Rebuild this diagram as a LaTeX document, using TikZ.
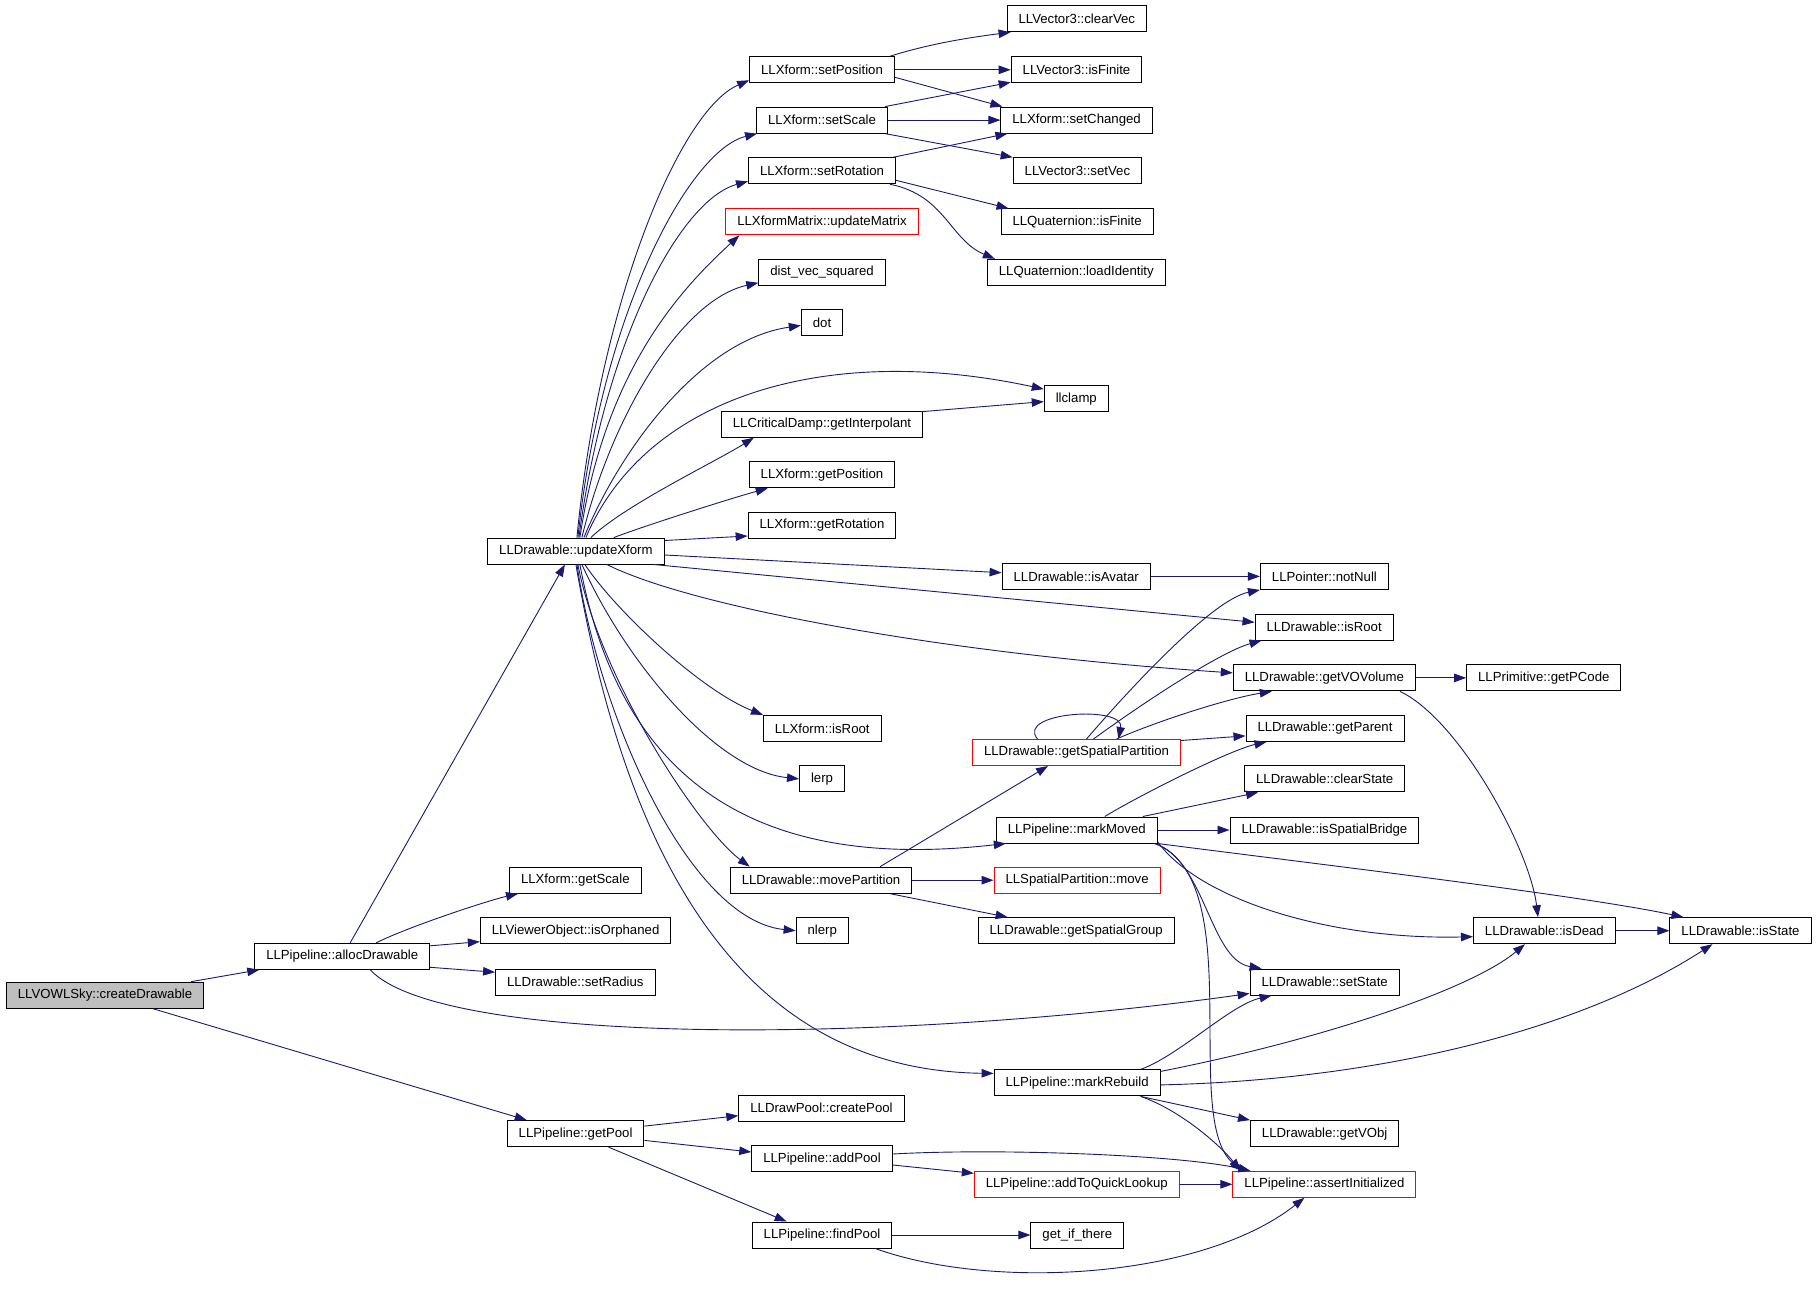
\documentclass[tikz,border=0pt]{standalone}
\usepackage{fontspec}
\setmainfont{Liberation Sans}
\usetikzlibrary{arrows.meta,calc}
\definecolor{edgeblue}{HTML}{191970}
\definecolor{boxgray}{HTML}{BFBFBF}
\begin{document}
\begin{tikzpicture}[x=1pt,y=-1pt,
  fn/.style={draw=black,line width=1pt,minimum height=26pt,inner xsep=11.5pt,inner ysep=0pt,font=\fontsize{13.2}{15}\selectfont},
  fnred/.style={fn,draw=red},
  fncur/.style={fn,fill=boxgray},
  call/.style={draw=edgeblue,line width=0.9pt,-{Triangle[length=12pt,width=8.5pt]}}]
\useasboundingbox (0,0) rectangle (1816,1292);
\node[fncur] (cre) at (105,995.2) {LLVOWLSky::createDrawable};
\node[fn] (alloc) at (342.2,956.3) {LLPipeline::allocDrawable};
\node[fn] (getpool) at (575.6,1133.6) {LLPipeline::getPool};
\node[fn] (upd) at (575.9,551) {LLDrawable::updateXform};
\node[fn] (getscale) at (575.3,880.2) {LLXform::getScale};
\node[fn] (isorph) at (575.6,930.7) {LLViewerObject::isOrphaned};
\node[fn] (setrad) at (575.3,982) {LLDrawable::setRadius};
\node[fn] (setpos) at (822,69.8) {LLXform::setPosition};
\node[fn] (setscale) at (822,120.1) {LLXform::setScale};
\node[fn] (setrot) at (822,170.8) {LLXform::setRotation};
\node[fnred] (updmat) at (822,221.9) {LLXformMatrix::updateMatrix};
\node[fn] (distvec) at (822,272.3) {dist\_vec\_squared};
\node[fn] (dot) at (822,322.8) {dot};
\node[fn] (interp) at (822,424.2) {LLCriticalDamp::getInterpolant};
\node[fn] (getposition) at (822,474.8) {LLXform::getPosition};
\node[fn] (getrotation) at (822,525.5) {LLXform::getRotation};
\node[fn] (xisroot) at (822.3,728.4) {LLXform::isRoot};
\node[fn] (lerp) at (822,778.9) {lerp};
\node[fn] (movepart) at (821,880.2) {LLDrawable::movePartition};
\node[fn] (nlerp) at (822.3,930.7) {nlerp};
\node[fn] (createpool) at (821.5,1108) {LLDrawPool::createPool};
\node[fn] (addpool) at (822,1158.7) {LLPipeline::addPool};
\node[fn] (findpool) at (822,1235) {LLPipeline::findPool};
\node[fn] (clearvec) at (1076.8,18.8) {LLVector3::clearVec};
\node[fn] (visfinite) at (1076.5,69.8) {LLVector3::isFinite};
\node[fn] (setchanged) at (1076.6,120.1) {LLXform::setChanged};
\node[fn] (setvec) at (1077.4,170.8) {LLVector3::setVec};
\node[fn] (qisfinite) at (1077.1,221.9) {LLQuaternion::isFinite};
\node[fn] (loadid) at (1076.3,272.3) {LLQuaternion::loadIdentity};
\node[fn] (llclamp) at (1076.3,398.6) {llclamp};
\node[fn] (isavatar) at (1076.2,576.4) {LLDrawable::isAvatar};
\node[fnred] (spatpart) at (1076.5,752.5) {LLDrawable::getSpatialPartition};
\node[fn] (markmoved) at (1076.8,830) {LLPipeline::markMoved};
\node[fnred] (spmove) at (1077.1,880.2) {LLSpatialPartition::move};
\node[fn] (getspgroup) at (1076.2,930.7) {LLDrawable::getSpatialGroup};
\node[fn] (markrebuild) at (1077.1,1082.9) {LLPipeline::markRebuild};
\node[fnred] (addquick) at (1076.8,1184.3) {LLPipeline::addToQuickLookup};
\node[fn] (getifthere) at (1077.3,1235) {get\_if\_there};
\node[fn] (notnull) at (1324.4,576.4) {LLPointer::notNull};
\node[fn] (disroot) at (1324.1,627) {LLDrawable::isRoot};
\node[fn] (getvov) at (1324.4,677.9) {LLDrawable::getVOVolume};
\node[fn] (getparent) at (1325,728.4) {LLDrawable::getParent};
\node[fn] (clearstate) at (1324.7,778.9) {LLDrawable::clearState};
\node[fn] (isspbr) at (1324.4,830) {LLDrawable::isSpatialBridge};
\node[fn] (setstate) at (1324.7,982) {LLDrawable::setState};
\node[fn] (getvobj) at (1324.7,1133.6) {LLDrawable::getVObj};
\node[fnred] (assertinit) at (1324.4,1184.3) {LLPipeline::assertInitialized};
\node[fn] (getpcode) at (1543.8,677.9) {LLPrimitive::getPCode};
\node[fn] (isdead) at (1544.4,930.7) {LLDrawable::isDead};
\node[fn] (isstate) at (1740.5,930.7) {LLDrawable::isState};
\draw[call] ($(cre.north)+(86,0)$) -- ($(alloc.south west)+(5,0)$);
\draw[call] ($(cre.south)+(48,0)$) -- ($(getpool.north west)+(20,0)$);
\draw[call] ($(alloc.north)+(8,0)$) -- ($(upd.south)+(-11,0)$);
\draw[call] ($(alloc.north)+(34,0)$) .. controls (410,926) and (490,900) .. ($(getscale.south west)+(9,0)$);
\draw[call] ($(alloc.north east)+(0,3)$) -- ($(isorph.south west)+(0,-2.5)$);
\draw[call] ($(alloc.south east)+(0,-2.5)$) -- ($(setrad.north west)+(0,3.7)$);
\draw[call] ($(alloc.south)+(28,0)$) .. controls (440,1045) and (880,1045) .. ($(setstate.south west)+(0,-2)$);
\draw[call] ($(upd.north)+(1,0)$) .. controls (600,300) and (680,110) .. ($(setpos.south west)+(0,-3)$);
\draw[call] ($(upd.north)+(2,0)$) .. controls (602,310) and (690,150) .. ($(setscale.south west)+(1,0)$);
\draw[call] ($(upd.north)+(3,0)$) .. controls (605,340) and (680,200) .. ($(setrot.south west)+(0,-3)$);
\draw[call] ($(upd.north)+(4,0)$) .. controls (605,370) and (680,290) .. ($(updmat.south west)+(14,0)$);
\draw[call] ($(upd.north)+(6,0)$) .. controls (610,420) and (680,300) .. ($(distvec.south west)+(0,-3)$);
\draw[call] ($(upd.north)+(8,0)$) .. controls (620,450) and (700,340) .. ($(dot.west)+(0,2.7)$);
\draw[call] ($(upd.north)+(10,0)$) .. controls (644,400) and (820,341) .. ($(llclamp.north west)+(0,4)$);
\draw[call] ($(upd.north)+(15,0)$) .. controls (625,505) and (715,462) .. ($(interp.south west)+(33,0)$);
\draw[call] ($(upd.north)+(38,0)$) .. controls (644,526) and (732,498) .. ($(getposition.south west)+(19,0)$);
\draw[call] ($(upd.north east)+(0,3)$) -- ($(getrotation.south west)+(0,-3)$);
\draw[call] ($(upd.east)+(0,4)$) -- ($(isavatar.west)+(0,-3.7)$);
\draw[call] ($(upd.south east)+(-11,0)$) -- ($(disroot.west)+(0,-4.7)$);
\draw[call] ($(upd.south)+(31,0)$) .. controls (687,605) and (933,653) .. ($(getvov.west)+(0,-5)$);
\draw[call] ($(upd.south)+(9,0)$) .. controls (615,610) and (700,690) .. (xisroot.north west);
\draw[call] ($(upd.south)+(6,0)$) .. controls (625,660) and (715,770) .. (lerp.west);
\draw[call] ($(upd.south)+(4,0)$) .. controls (625,810) and (790,868) .. ($(markmoved.south west)+(10,0)$);
\draw[call] ($(upd.south)+(2,0)$) .. controls (600,680) and (700,830) .. ($(movepart.north west)+(20,0)$);
\draw[call] ($(upd.south)+(1,0)$) .. controls (600,720) and (690,920) .. (nlerp.west);
\draw[call] (upd.south) .. controls (620,820) and (720,1070) .. ($(markrebuild.north west)+(0,4)$);
\draw[call] ($(setpos.north east)+(-5,0)$) .. controls (925,45) and (965,38) .. ($(clearvec.south west)+(4,0)$);
\draw[call] (setpos.east) -- (visfinite.west);
\draw[call] ($(setpos.south east)+(0,-6)$) -- ($(setchanged.north west)+(2,0)$);
\draw[call] ($(setscale.north east)+(-3,0)$) -- ($(visfinite.south west)+(0,-1)$);
\draw[call] (setscale.east) -- (setchanged.west);
\draw[call] ($(setscale.south east)+(-3,0)$) -- (setvec.north west);
\draw[call] ($(setrot.north east)+(-3,0)$) -- ($(setchanged.south west)+(7,0)$);
\draw[call] ($(setrot.south east)+(0,-4)$) -- ($(qisfinite.north west)+(8,0)$);
\draw[call] ($(setrot.south east)+(-6,0)$) .. controls (945,195) and (950,240) .. ($(loadid.north west)+(8,0)$);
\draw[call] ($(interp.north east)+(-2,1)$) -- ($(llclamp.west)+(0,3)$);
\draw[call] (isavatar.east) -- (notnull.west);
\draw[call] (getvov.east) -- (getpcode.west);
\draw[call] ($(getvov.south east)+(-16,0)$) .. controls (1460,720) and (1530,850) .. ($(isdead.north west)+(65,0)$);
\draw[call] (isdead.east) -- (isstate.west);
\draw[call] ($(spatpart.north)+(-39,0)$) .. controls (1015,712) and (1125,705) .. ($(spatpart.north)+(42,0)$);
\draw[call] ($(spatpart.north)+(10,0)$) .. controls (1120,700) and (1210,600) .. (notnull.south west);
\draw[call] ($(spatpart.north)+(17,0)$) .. controls (1140,705) and (1220,652) .. ($(disroot.south west)+(7,0)$);
\draw[call] ($(spatpart.north)+(40,0)$) .. controls (1160,720) and (1230,698) .. ($(getvov.south west)+(39,0)$);
\draw[call] ($(spatpart.north east)+(0,1.5)$) -- ($(getparent.west)+(0,7.5)$);
\draw[call] ($(movepart.north)+(59,0)$) -- ($(spatpart.south west)+(76,0)$);
\draw[call] (movepart.east) -- (spmove.west);
\draw[call] ($(movepart.south east)+(-22,0)$) -- ($(getspgroup.north west)+(30,0)$);
\draw[call] ($(markmoved.north)+(28,0)$) .. controls (1140,795) and (1230,750) .. ($(getparent.south west)+(21,0)$);
\draw[call] ($(markmoved.north)+(66,0)$) -- ($(clearstate.south west)+(14,0)$);
\draw[call] (markmoved.east) -- (isspbr.west);
\draw[call] (markmoved.south east) .. controls (1300,862) and (1580,895) .. ($(isstate.north west)+(14,0)$);
\draw[call] ($(markmoved.south east)+(0,-1.5)$) .. controls (1200,900) and (1330,940) .. ($(isdead.west)+(0,6)$);
\draw[call] ($(markmoved.south east)+(-3,0)$) .. controls (1205,860) and (1210,960) .. ($(setstate.north west)+(12,0)$);
\draw[call] ($(markmoved.south east)+(-3,0)$) .. controls (1250,880) and (1180,1120) .. ($(assertinit.north west)+(10,0)$);
\draw[call] ($(markrebuild.north east)+(-20,0)$) .. controls (1180,1055) and (1230,1005) .. ($(setstate.south west)+(22,0)$);
\draw[call] ($(markrebuild.north east)+(0,2)$) .. controls (1320,1040) and (1470,990) .. ($(isdead.south west)+(52,0)$);
\draw[call] ($(markrebuild.east)+(0,2)$) .. controls (1380,1080) and (1580,1030) .. ($(isstate.south west)+(43,0)$);
\draw[call] ($(markrebuild.south east)+(-20,0)$) -- (getvobj.north west);
\draw[call] ($(markrebuild.south east)+(-20,0)$) .. controls (1180,1110) and (1220,1145) .. ($(assertinit.north west)+(8,0)$);
\draw[call] ($(getpool.north east)+(0,6)$) -- ($(createpool.west)+(0,7.7)$);
\draw[call] ($(getpool.east)+(0,6.8)$) -- ($(addpool.west)+(0,-6.7)$);
\draw[call] ($(getpool.south east)+(-36,0)$) -- ($(findpool.north west)+(35,0)$);
\draw[call] ($(addpool.east)+(0,6.3)$) -- ($(addquick.west)+(0,-11)$);
\draw[call] ($(addpool.east)+(0,-4.7)$) .. controls (1000,1148) and (1180,1155) .. ($(assertinit.north west)+(18,0)$);
\draw[call] (addquick.east) -- (assertinit.west);
\draw[call] (findpool.east) -- (getifthere.west);
\draw[call] ($(findpool.south east)+(-17,0)$) .. controls (990,1290) and (1200,1280) .. ($(assertinit.south west)+(72,0)$);
\end{tikzpicture}
\end{document}
